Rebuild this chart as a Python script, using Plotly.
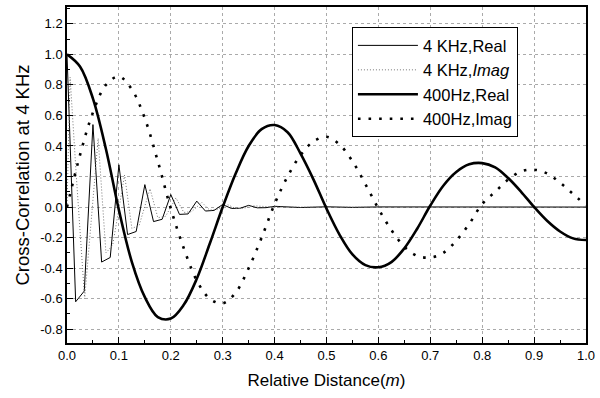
import plotly.graph_objects as go

# ---------------- data ----------------
# 400 Hz curves, sampled every 0.025 m
x400 = [0.000, 0.025, 0.050, 0.075, 0.100, 0.125, 0.150, 0.175, 0.200, 0.225,
        0.250, 0.275, 0.300, 0.325, 0.350, 0.375, 0.400, 0.425, 0.450, 0.475,
        0.500, 0.525, 0.550, 0.575, 0.600, 0.625, 0.650, 0.675, 0.700, 0.725,
        0.750, 0.775, 0.800, 0.825, 0.850, 0.875, 0.900, 0.925, 0.950, 0.975, 1.000]
real400 = [1.00, 0.92, 0.71, 0.38, -0.02, -0.36, -0.59, -0.72, -0.73, -0.64,
           -0.47, -0.24, 0.00, 0.22, 0.40, 0.51, 0.537, 0.49, 0.35, 0.18,
           -0.01, -0.18, -0.31, -0.38, -0.394, -0.36, -0.27, -0.14, 0.01, 0.14,
           0.23, 0.28, 0.288, 0.26, 0.19, 0.10, 0.00, -0.09, -0.16, -0.205, -0.216]
imag400 = [0.00, 0.34, 0.62, 0.80, 0.855, 0.77, 0.58, 0.30, -0.01, -0.27,
           -0.48, -0.60, -0.63, -0.56, -0.40, -0.20, 0.02, 0.20, 0.34, 0.43,
           0.46, 0.41, 0.30, 0.15, -0.01, -0.15, -0.26, -0.32, -0.33, -0.30,
           -0.22, -0.11, 0.02, 0.10, 0.18, 0.234, 0.245, 0.22, 0.16, 0.086, 0.01]

# 4 kHz curves (coarsely sampled)
x4k_real = [0.0000, 0.0167, 0.0333, 0.0500, 0.0667, 0.0833, 0.1000, 0.1167, 0.1333,
            0.1500, 0.1667, 0.1833, 0.2000, 0.2167, 0.2333, 0.2500, 0.2667, 0.2833,
            0.3000, 0.3167, 0.3333, 0.3500, 0.3667, 0.3833, 0.4000, 0.4500, 0.5000,
            0.5500, 0.6000, 0.7000, 0.8000, 0.9000, 1.0000]
real4k = [1.00, -0.62, -0.55, 0.54, -0.36, -0.33, 0.277, -0.18, -0.16,
          0.147, -0.095, -0.08, 0.082, -0.048, -0.045, 0.039, -0.026, -0.022,
          0.017, -0.009, -0.008, 0.011, -0.005, -0.004, 0.005, -0.003, 0.002,
          -0.002, 0.001, 0.000, 0.000, 0.000, 0.000]
x4k_imag = [0.0000, 0.0060, 0.0180, 0.0340, 0.0600, 0.0750, 0.0880, 0.1110, 0.1250,
            0.1390, 0.1600, 0.1750, 0.1900, 0.2100, 0.2250, 0.2400, 0.2600, 0.2750,
            0.2900, 0.3100, 0.3250, 0.3400, 0.3600, 0.4000, 0.5000, 0.6000, 0.8000, 1.0000]
imag4k = [0.00, 0.85, 0.20, -0.60, 0.45, -0.30, -0.25, 0.21, -0.14, -0.12,
          0.12, -0.07, -0.06, 0.06, -0.035, -0.03, 0.03, -0.02, -0.015, 0.015,
          -0.01, -0.008, 0.008, 0.000, 0.000, 0.000, 0.000, 0.000]

names = ["4 KHz,Real", "4 KHz,<i>Imag</i>", "400Hz,Real", "400Hz,Imag"]

x_tickvals = [0.0, 0.1, 0.2, 0.3, 0.4, 0.5, 0.6, 0.7, 0.8, 0.9, 1.0]
x_ticktext = ["0.0", "0.1", "0.2", "0.3", "0.4", "0.5", "0.6", "0.7", "0.8", "0.9", "1.0"]
y_tickvals = [-0.8, -0.6, -0.4, -0.2, 0.0, 0.2, 0.4, 0.6, 0.8, 1.0, 1.2]
y_ticktext = ["-0.8", "-0.6", "-0.4", "-0.2", "0.0", "0.2", "0.4", "0.6", "0.8", "1.0", "1.2"]

# ---------------- figure ----------------
fig = go.Figure()
fig.add_trace(go.Scatter(x=x4k_real, y=real4k, mode="lines", name=names[0],
                         line=dict(color="black", width=1)))
fig.add_trace(go.Scatter(x=x4k_imag, y=imag4k, mode="lines", name=names[1],
                         line=dict(color="#777777", width=1, dash="1px,2px")))
fig.add_trace(go.Scatter(x=x400, y=real400, mode="lines", name=names[2],
                         line=dict(color="black", width=2.6, shape="spline")))
fig.add_trace(go.Scatter(x=x400, y=imag400, mode="lines", name=names[3],
                         line=dict(color="black", width=2.6, dash="2.6px,8px", shape="spline")))

font_family = "Liberation Sans, Arial, sans-serif"

fig.update_layout(
    width=600, height=398,
    margin=dict(l=67, r=10, t=5, b=55),
    paper_bgcolor="white", plot_bgcolor="white",
    font=dict(family=font_family, color="black", size=13),
    showlegend=True,
    legend=dict(x=0.549, y=0.94, xanchor="left", yanchor="top",
                bgcolor="white", bordercolor="black", borderwidth=1,
                font=dict(size=16.5, family=font_family, color="black"),
                itemwidth=60, tracegroupgap=0),
)
fig.update_xaxes(
    range=[0, 1.0], showline=True, linecolor="black", linewidth=1.5, mirror=True,
    tickmode="array", tickvals=x_tickvals, ticktext=x_ticktext,
    ticks="inside", ticklen=6, tickcolor="black", tickwidth=1,
    minor=dict(dtick=0.05, ticks="inside", ticklen=3, tickcolor="black", showgrid=False),
    showgrid=True, gridcolor="#aaaaaa", griddash="dot", gridwidth=1,
    zeroline=False,
    tickfont=dict(size=13),
    title=dict(text="Relative Distance(<i>m</i>)", font=dict(size=17), standoff=12),
)
fig.update_yaxes(
    range=[-0.89, 1.31], showline=True, linecolor="black", linewidth=1.5, mirror=True,
    tickmode="array", tickvals=y_tickvals, ticktext=y_ticktext,
    ticks="inside", ticklen=6, tickcolor="black", tickwidth=1,
    minor=dict(dtick=0.1, ticks="inside", ticklen=3, tickcolor="black", showgrid=False),
    showgrid=True, gridcolor="#aaaaaa", griddash="dot", gridwidth=1,
    zeroline=False,
    tickfont=dict(size=13),
    title=dict(text="Cross-Correlation at 4 KHz", font=dict(size=18.5), standoff=6),
)

fig.write_html("out.html")
